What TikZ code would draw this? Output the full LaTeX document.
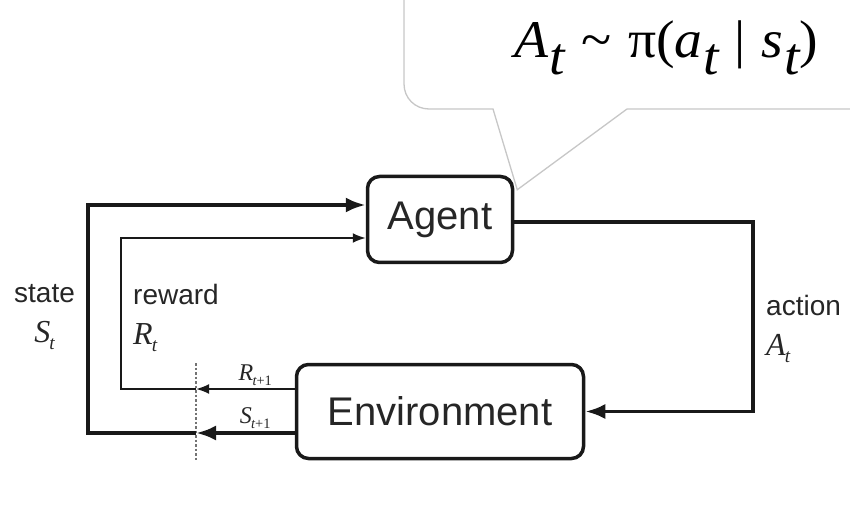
\documentclass[tikz,border=0pt]{standalone}
\usepackage{fontspec}
\usepackage{graphicx}
\setmainfont{Liberation Sans}
\newfontfamily\tms{Liberation Serif}
\usetikzlibrary{arrows.meta}
\usetikzlibrary{positioning}
\newcommand{\lowt}[1]{\kern0.02em\raisebox{-0.32em}{#1}}
\newcommand{\sym}[2]{{\tms\itshape #1}\kern-0.03em\raisebox{-0.22em}{\scalebox{0.6}{\tms\itshape #2}}}
\tikzstyle{rl_box}=[draw=black!90, fill=white, line width=3.5pt, rounded corners=12pt,
    inner sep=0pt, font=\fontsize{40}{48}\selectfont, text=black!85]
\tikzstyle{rl_thick}=[draw=black!90, line width=3.8pt]
\tikzstyle{rl_thin}=[draw=black!90, line width=2pt]
\tikzstyle{tip_big}=[-{Latex[length=20pt,width=15pt]}]
\tikzstyle{tip_small}=[-{Latex[length=13pt,width=10pt]}]
\tikzstyle{rl_label}=[font=\fontsize{28}{40}\selectfont, inner sep=0pt, text=black!85]
\tikzstyle{step_label}=[font=\fontsize{24}{26}\selectfont, inner sep=2pt, text=black!85]
\tikzstyle{bubble}=[draw=black!22, fill=white, line width=1.3pt]
\newcommand{\bigsym}[2]{{\fontsize{32}{40}\selectfont\sym{#1}{#2}}}

\begin{document}
\begin{tikzpicture}[x=1pt,y=-1pt]
  \useasboundingbox (0,0) rectangle (850,510);
  % boxes
  \node[rl_box, minimum width=145pt, minimum height=86pt] (agent) at (440,219.5) {Agent};
  \node[rl_box, minimum width=287pt, minimum height=94pt] (env) at (440,411.5) {Environment};
  % speech bubble with the policy
  \coordinate (tip) at ([xshift=3pt,yshift=-15pt]agent.north east);
  \draw[bubble] (404,-3) -- (404,84) .. controls (404,98) and (415,109) .. (429,109)
    -- (493,109) -- (tip) -- (627,109) -- (853,109);
  \node[anchor=base west, inner sep=0pt, text=black] (policy) at (514,58)
    {\scalebox{1.05}[1]{\fontsize{53}{60}\selectfont\tms\itshape A\lowt{t}\upshape\hspace{0.3em}\textasciitilde\hspace{0.3em}π(\itshape a\lowt{t}\upshape\hspace{0.28em}|\hspace{0.28em}\itshape s\lowt{t}\upshape)}};
  % cut between steps
  \coordinate (cuttop) at (196,363);
  \coordinate (cutbot) at (196,460);
  \draw[black!55, line width=1.2pt, dash pattern=on 2.5pt off 2pt] (cuttop) -- (cutbot);
  % action
  \draw[rl_thick, tip_big] ([yshift=-2.5pt]agent.east) -- ++(239,0) |- (env.east);
  % state
  \draw[rl_thick, tip_big] ([yshift=-21.5pt]env.west) coordinate (sout) -- (sout -| cuttop)
    node[step_label, above, pos=0.4] (snext) {\sym{S}{t\upshape+1}};
  \draw[rl_thick, tip_big] (sout -| cuttop) -- ++(-108,0) |- ([yshift=14.5pt]agent.west);
  % reward
  \draw[rl_thin, tip_small] ([yshift=22.5pt]env.west) coordinate (rout) -- (rout -| cuttop)
    node[step_label, above, pos=0.4] (rnext) {\sym{R}{t\upshape+1}};
  \draw[rl_thin, tip_small] (rout -| cuttop) -- ++(-75,0) |- ([yshift=-18.5pt]agent.west);
  % labels
  \node[rl_label, align=center, anchor=north] (statelbl) at (44.5,284) {state\\\bigsym{S}{t}};
  \node[rl_label, align=left, anchor=north west] (rewardlbl) at (133,284) {reward\\\bigsym{R}{t}};
  \node[rl_label, align=left, anchor=north west] (actionlbl) at (766,295) {action\\\bigsym{A}{t}};
\end{tikzpicture}
\end{document}
